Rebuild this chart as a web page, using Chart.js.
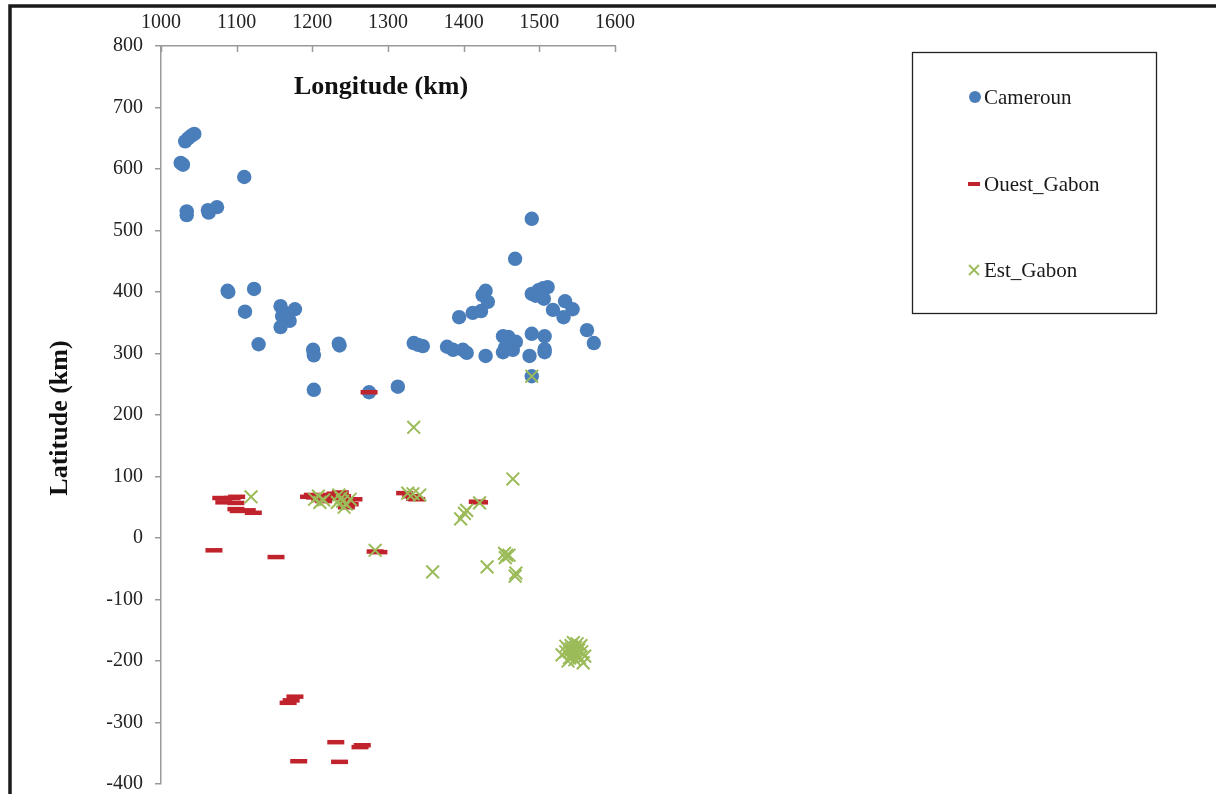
<!DOCTYPE html>
<html><head><meta charset="utf-8">
<script src="https://cdn.jsdelivr.net/npm/chart.js@4/dist/chart.umd.min.js"></script>
<style>html,body{margin:0;padding:0;background:#fff}#wrap{width:1216px;height:794px;position:relative}</style>
</head><body><div id="wrap"><canvas id="c" width="1216" height="794"></canvas></div>
<script>
const seriesNames = ['Cameroun', 'Ouest_Gabon', 'Est_Gabon'];
const xTicks = [1000, 1100, 1200, 1300, 1400, 1500, 1600];
const yTicks = [800, 700, 600, 500, 400, 300, 200, 100, 0, -100, -200, -300, -400];

const camerounX = [1026,1029,1032,1036,1040,1044,1110,1034,1034,1062,1063,1074,1088,1089,1123,1111,1129,
  1158,1177,1160,1163,1166,1170,1158,1168,1201,1202,1235,1236,1202,1275,1313,
  1490,1468,1429,1425,1432,1394,1412,1423,1490,1495,1499,1505,1511,1506,1534,1544,1518,1532,1563,1572,
  1334,1340,1346,1378,1386,1399,1404,1429,1452,1459,1469,1452,1455,1465,1490,1507,1507,1507,1487,1490];
const camerounY = [610,607,645,650,654,657,587,531,525,533,529,538,402,400,405,368,315,
  377,372,361,366,356,353,343,362,306,297,316,313,241,237,246,
  519,454,402,395,384,359,366,369,397,394,403,406,408,389,385,372,371,359,338,317,
  317,314,312,311,306,306,301,296,328,327,319,302,310,306,332,328,302,307,296,263];

const ouestX = [1079,1094,1100,1083,1099,1099,1114,1122,1102,1070,1152,
  1195,1203,1210,1218,1225,1230,1237,1240,1245,1250,1255,1215,1228,1245,1200,
  1283,1288,1275,1322,1330,1338,1335,1418,1421,
  1177,1168,1172,1231,1263,1266,1182,1236];
const ouestY = [65,65,67,58,57,47,45,41,44,-20,-31,
  67,66,62,68,70,72,74,68,62,55,63,60,65,50,70,
  -22,-23,237,73,68,63,64,59,58,
  -258,-268,-264,-332,-340,-337,-363,-364];

const estX = [1119,1203,1210,1208,1215,1235,1240,1245,1242,1250,1238,1233,1283,1334,1326,1333,1342,1465,
  1421,1404,1396,1401,1359,1431,1457,1455,1460,1454,1469,1468,1490,
  1530,1535,1538,1540,1542,1545,1548,1550,1552,1555,1540,1543,1547,1538,1553,1558,1560,1545,1535,1550,1556,1542,1548];
const estY = [67,63,58,68,62,70,60,55,50,63,65,58,-20,180,73,72,70,96,
  57,45,31,40,-55,-47,-28,-32,-28,-25,-57,-62,263,
  -190,-185,-180,-195,-175,-185,-178,-190,-182,-175,-185,-192,-198,-200,-195,-203,-192,-170,-176,-172,-185,-180,-188];

const colors = ['#4A7EBB', '#C0232C', '#9BBB59'];
const pts = (xs, ys) => xs.map((x, i) => ({x: x, y: ys[i]}));

const FONT = '"Liberation Serif", "Times New Roman", serif';
const L = {left:161, top:46, right:615, bottom:784};

const framePlugin = {
  id: 'frame',
  beforeDraw(chart) {
    const ctx = chart.ctx;
    ctx.save();
    ctx.fillStyle = '#fff';
    ctx.fillRect(0, 0, chart.width, chart.height);
    ctx.strokeStyle = '#1a1a1a';
    ctx.lineWidth = 3.5;
    ctx.strokeRect(10, 6, 1400, 1000);
    ctx.restore();
  },
  afterDraw(chart) {
    const ctx = chart.ctx;
    const xs = chart.scales.x, ys = chart.scales.y;
    ctx.save();
    ctx.strokeStyle = '#9a9a9a';
    ctx.lineWidth = 1.5;
    xTicks.forEach(v => {
      const px = Math.round(xs.getPixelForValue(v)) + 0.5;
      ctx.beginPath(); ctx.moveTo(px, ys.top); ctx.lineTo(px, ys.top + 6); ctx.stroke();
    });
    ctx.fillStyle = '#111';
    ctx.font = 'bold 26px ' + FONT;
    ctx.textAlign = 'center'; ctx.textBaseline = 'middle';
    ctx.fillText('Longitude (km)', 381, 87);
    ctx.translate(60, 418); ctx.rotate(-Math.PI / 2);
    ctx.fillText('Latitude (km)', 0, 0);
    ctx.setTransform(1, 0, 0, 1, 0, 0);
    ctx.strokeStyle = '#222'; ctx.lineWidth = 1.3;
    ctx.strokeRect(912.5, 52.5, 244, 261);
    const ly = [97, 184, 270];
    ctx.font = '21px ' + FONT; ctx.textAlign = 'left';
    seriesNames.forEach((n, i) => {
      const y = ly[i];
      ctx.fillStyle = colors[i]; ctx.strokeStyle = colors[i];
      if (i === 0) { ctx.beginPath(); ctx.arc(975, y, 6, 0, Math.PI * 2); ctx.fill(); }
      else if (i === 1) { ctx.lineWidth = 4; ctx.beginPath(); ctx.moveTo(968, y); ctx.lineTo(980, y); ctx.stroke(); }
      else { ctx.lineWidth = 1.8; ctx.beginPath(); ctx.moveTo(969, y - 5); ctx.lineTo(979, y + 5); ctx.moveTo(979, y - 5); ctx.lineTo(969, y + 5); ctx.stroke(); }
      ctx.fillStyle = '#1a1a1a';
      ctx.fillText(n, 984, y + 1);
    });
    ctx.restore();
  }
};

new Chart(document.getElementById('c'), {
  type: 'scatter',
  data: {
    datasets: [
      {label: seriesNames[0], data: pts(camerounX, camerounY), backgroundColor: colors[0], borderColor: colors[0],
       pointStyle: 'circle', pointRadius: 7.2, pointBorderWidth: 0, order: 3},
      {label: seriesNames[1], data: pts(ouestX, ouestY), backgroundColor: colors[1], borderColor: colors[1],
       pointStyle: 'line', pointRadius: 8.5, pointBorderWidth: 4.5, order: 2},
      {label: seriesNames[2], data: pts(estX, estY), backgroundColor: colors[2], borderColor: colors[2],
       pointStyle: 'crossRot', pointRadius: 9, pointBorderWidth: 2, order: 1}
    ]
  },
  options: {
    responsive: false, animation: false, devicePixelRatio: 1,
    layout: {autoPadding: false, padding: {left: 0, top: 0, right: 1216 - L.right, bottom: 794 - L.bottom}},
    plugins: {legend: {display: false}, tooltip: {enabled: false}},
    scales: {
      x: {
        type: 'linear', position: 'top', min: 1000, max: 1600,
        afterBuildTicks: s => { s.ticks = xTicks.map(v => ({value: v})); },
        afterFit: s => { s.height = L.top; s.paddingLeft = 0; s.paddingRight = 0; },
        grid: {display: false, drawTicks: false},
        border: {display: true, color: '#9a9a9a', width: 1.5},
        ticks: {padding: 11, color: '#222', font: {family: FONT, size: 20}, maxRotation: 0,
                callback: v => String(v)}
      },
      y: {
        type: 'linear', min: -400, max: 800,
        afterBuildTicks: s => { s.ticks = yTicks.map(v => ({value: v})); },
        afterFit: s => { s.width = L.left; s.paddingTop = 0; s.paddingBottom = 0; },
        grid: {display: true, drawOnChartArea: false, drawTicks: true, tickLength: 6, color: '#9a9a9a', lineWidth: 1.5},
        border: {display: true, color: '#9a9a9a', width: 1.5},
        ticks: {padding: 12, color: '#222', font: {family: FONT, size: 20}, callback: v => String(v)}
      }
    }
  },
  plugins: [framePlugin]
});
</script></body></html>
